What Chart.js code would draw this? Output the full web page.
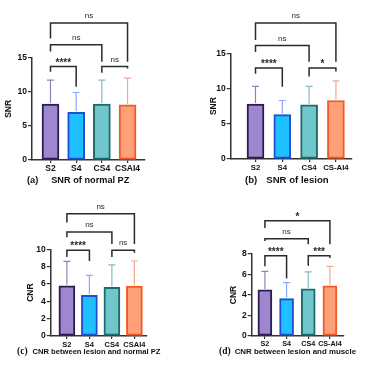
<!DOCTYPE html>
<html>
<head>
<meta charset="utf-8">
<script src="https://cdn.jsdelivr.net/npm/chart.js@4.4.1/dist/chart.umd.min.js"></script>
<style>
  body { margin: 0; background: #fff; width: 367px; height: 368px; position: relative; overflow: hidden;
         font-family: "Liberation Sans", Arial, sans-serif; }
  canvas { position: absolute; }
  .cap { position: absolute; font-weight: bold; white-space: pre; color: #111; line-height: 1; }
  .serif { font-family: "Liberation Serif", "Times New Roman", serif; }
</style>
</head>
<body>
<canvas id="pa" width="184" height="180" style="left:0;top:0"></canvas>
<canvas id="pb" width="183" height="180" style="left:184px;top:0"></canvas>
<canvas id="pc" width="184" height="168" style="left:0;top:184px"></canvas>
<canvas id="pd" width="183" height="168" style="left:184px;top:184px"></canvas>

<div class="cap" style="left:27px;top:176px;font-size:9.2px">(a)<span style="margin-left:13px">SNR of normal PZ</span></div>
<div class="cap" style="left:245px;top:175px;font-size:9.6px">(b)<span style="margin-left:9px">SNR of lesion</span></div>
<div class="cap" style="left:17px;top:347px;font-size:7.6px"><span class="serif" style="font-size:9.5px">(c)</span><span style="margin-left:5px">CNR between lesion and normal PZ</span></div>
<div class="cap" style="left:219px;top:347px;font-size:7.9px"><span class="serif" style="font-size:9.5px">(d)</span><span style="margin-left:4px">CNR between lesion and muscle</span></div>

<script>
// groups
const groupsAC = ['S2', 'S4', 'CS4', 'CSAI4'];
const groupsBD = ['S2', 'S4', 'CS4', 'CS-AI4'];

// mean and SD
const snrPZ = [8.2, 7.0, 8.2, 8.1];
const snrPZSd = [3.5, 2.9, 3.5, 3.9];
const snrLesion = [7.8, 6.3, 7.7, 8.3];
const snrLesionSd = [2.5, 2.0, 2.6, 2.8];
const cnrPZ = [5.8, 4.7, 5.6, 5.75];
const cnrPZSd = [2.8, 2.3, 2.6, 2.9];
const cnrMuscle = [4.5, 3.65, 4.6, 4.9];
const cnrMuscleSd = [1.8, 1.55, 1.65, 1.9];

// y ticks
const ticksSNR = [0, 5, 10, 15];
const ticksCNRPZ = [0, 2, 4, 6, 8, 10];
const ticksCNRMuscle = [0, 2, 4, 6, 8];

// comparisons: [from, to, label, bracket level, left leg end, right leg end]
const sigA = [[0, 1, '****', 13.7, 12.95, 10.75], [2, 3, 'ns', 13.7, 12.8, 13.4],
              [0, 2, 'ns', 16.9, 15.9, 14.4], [0, 3, 'ns', 20.1, 17.8, 14.4]];
const sigB = [[0, 1, '****', 12.9, 12.1, 10.25], [2, 3, '*', 12.9, 11.7, 12.4],
              [0, 2, 'ns', 16.1, 15.2, 13.8], [0, 3, 'ns', 19.3, 16.9, 13.8]];
const sigC = [[0, 1, '****', 9.9, 9.1, 8.66], [2, 3, 'ns', 9.9, 9.1, 9.6],
              [0, 2, 'ns', 12.0, 11.4, 10.6], [0, 3, 'ns', 14.1, 13.1, 10.6]];
const sigD = [[0, 1, '****', 7.84, 6.8, 5.6], [2, 3, '***', 7.84, 6.86, 7.6],
              [0, 2, 'ns', 9.49, 9.26, 8.95], [0, 3, '*', 11.25, 10.53, 8.95]];

const fills = ['#9f86d0', '#1ec0ff', '#6fc7cb', '#ffa078'];
const borders = ['#2a1d50', '#1d4fd0', '#1e6a6d', '#f05a26'];
const errColors = ['#8e84bb', '#8ea6ff', '#86bcc0', '#f3a98a'];

// error bars (upper only) + significance brackets
const sigPlugin = {
    id: 'sig',
    afterDatasetsDraw(chart, args, opts) {
        const ctx = chart.ctx;
        const xs = chart.scales.x, ys = chart.scales.y;
        const meta = chart.getDatasetMeta(0);
        const means = chart.data.datasets[0].data;
        ctx.save();
        meta.data.forEach((bar, i) => {
            const top = ys.getPixelForValue(means[i].y + opts.sd[i]);
            ctx.strokeStyle = errColors[i];
            ctx.lineWidth = 1.2;
            ctx.beginPath();
            ctx.moveTo(bar.x, bar.y - 1);
            ctx.lineTo(bar.x, top);
            ctx.moveTo(bar.x - 3.5, top);
            ctx.lineTo(bar.x + 3.5, top);
            ctx.stroke();
        });
        ctx.strokeStyle = '#2b2b2b';
        ctx.fillStyle = '#2b2b2b';
        ctx.lineWidth = 1.5;
        ctx.textAlign = 'center';
        opts.comps.forEach(([a, b, label, lvl, endA, endB]) => {
            const xa = xs.getPixelForValue(a), xb = xs.getPixelForValue(b);
            const y = ys.getPixelForValue(lvl);
            ctx.beginPath();
            ctx.moveTo(xa, ys.getPixelForValue(endA));
            ctx.lineTo(xa, y);
            ctx.lineTo(xb, y);
            ctx.lineTo(xb, ys.getPixelForValue(endB));
            ctx.stroke();
            ctx.textBaseline = 'alphabetic';
            if (label === 'ns') {
                ctx.font = '8px "Liberation Sans", Arial, sans-serif';
                ctx.fillText(label, (xa + xb) / 2, y - 5);
            } else {
                ctx.font = 'bold 10px "Liberation Sans", Arial, sans-serif';
                ctx.fillText(label, (xa + xb) / 2, y - 1);
            }
        });
        ctx.restore();
    }
};

function makeChart(id, labels, means, sd, yTicks, yMax, yTitle, comps, cfg) {
    const yFont = { family: '"Liberation Sans", Arial, sans-serif', size: 8.5, weight: 'bold' };
    const xFont = { family: '"Liberation Sans", Arial, sans-serif', size: cfg.xFont, weight: 'bold' };
    new Chart(document.getElementById(id), {
        type: 'bar',
        data: {
            datasets: [{
                data: means.map((v, i) => ({ x: i, y: v })),
                backgroundColor: fills,
                borderColor: borders,
                borderWidth: 2,
                borderSkipped: false,
                barThickness: cfg.barW
            }]
        },
        options: {
            responsive: false,
            animation: false,
            layout: { padding: { top: cfg.top, right: cfg.right, left: 0, bottom: 0 } },
            plugins: {
                legend: { display: false },
                tooltip: { enabled: false },
                sig: { sd: sd, comps: comps }
            },
            scales: {
                x: {
                    type: 'linear',
                    offset: false,
                    min: cfg.xMin,
                    max: cfg.xMax,
                    afterBuildTicks: s => { s.ticks = labels.map((l, i) => ({ value: i })); },
                    afterFit: s => { s.height = cfg.xH; },
                    ticks: { callback: v => labels[v], font: xFont, color: '#111', padding: 1, maxRotation: 0, autoSkip: false },
                    grid: { offset: false, drawOnChartArea: false, drawTicks: true, tickLength: 3, color: '#333', lineWidth: 1.2 },
                    border: { color: '#333', width: 1.5 }
                },
                y: {
                    min: 0,
                    max: yMax,
                    afterBuildTicks: s => { s.ticks = yTicks.map(v => ({ value: v })); },
                    afterFit: s => { s.width = cfg.yW; },
                    ticks: { font: yFont, color: '#111', padding: 1 },
                    grid: { drawOnChartArea: false, drawTicks: true, tickLength: 4, color: '#333', lineWidth: 1.2 },
                    border: { color: '#333', width: 1.5 },
                    title: { display: true, text: yTitle, font: yFont, color: '#111', padding: { top: cfg.titlePad, bottom: 0 } }
                }
            }
        },
        plugins: [sigPlugin]
    });
}

makeChart('pa', groupsAC, snrPZ, snrPZSd, ticksSNR, 15, 'SNR', sigA,
    { top: 57.7, right: 39, yW: 32, xH: 20, xMin: -0.72, xMax: 3.68, barW: 17, titlePad: 4, xFont: 8.5 });
makeChart('pb', groupsBD, snrLesion, snrLesionSd, ticksSNR, 15, 'SNR', sigB,
    { top: 53.3, right: 15, yW: 46.7, xH: 21, xMin: -0.925, xMax: 3.6, barW: 17, titlePad: 25, xFont: 7.8 });
makeChart('pc', groupsAC, cnrPZ, cnrPZSd, ticksCNRPZ, 10, 'CNR', sigC,
    { top: 65.3, right: 37, yW: 50.7, xH: 16, xMin: -0.72, xMax: 3.56, barW: 16, titlePad: 26, xFont: 7.5 });
makeChart('pd', groupsBD, cnrMuscle, cnrMuscleSd, ticksCNRMuscle, 8, 'CNR', sigD,
    { top: 70, right: 23, yW: 67.7, xH: 16, xMin: -0.61, xMax: 3.65, barW: 14, titlePad: 45, xFont: 7.2 });
</script>
</body>
</html>
